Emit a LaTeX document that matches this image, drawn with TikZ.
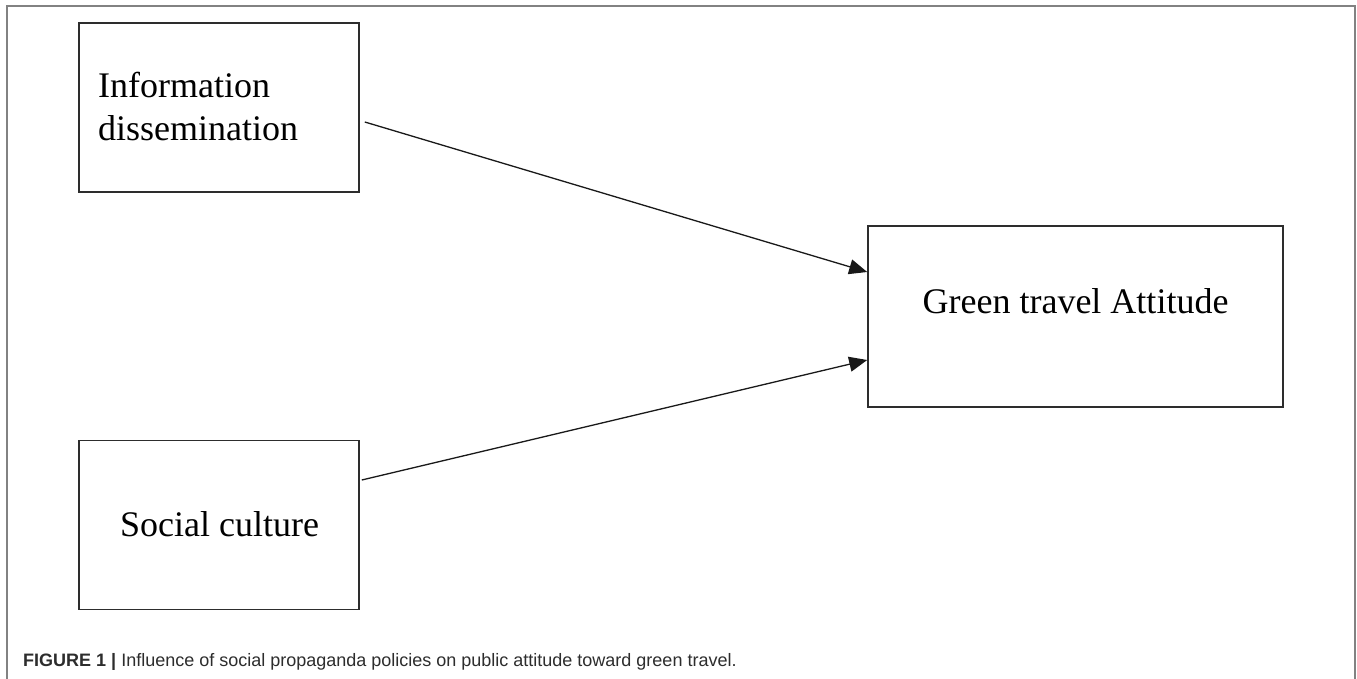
\documentclass[tikz,border=0pt]{standalone}
\usepackage{fontspec}
\setmainfont{Liberation Serif}
\newfontfamily\captionfont{Liberation Sans}
\usetikzlibrary{arrows.meta,calc}

\definecolor{framegray}{RGB}{130,130,130}
\definecolor{boxline}{RGB}{45,45,45}
\definecolor{captext}{RGB}{45,45,45}

\tikzset{
  factor/.style={draw=boxline, line width=1.6pt, minimum width=280pt, minimum height=169pt, inner sep=0pt},
  outcome/.style={draw=boxline, line width=1.6pt, minimum width=415pt, minimum height=181pt, inner sep=0pt},
  boxtext/.style={font=\fontsize{36}{43}\selectfont, inner sep=0pt, text=black},
  link/.style={draw=black!90, line width=1.3pt, -{Triangle[length=18pt,width=15pt]}},
}

\begin{document}
\begin{tikzpicture}[x=1pt,y=-1pt]
  \useasboundingbox (0,0) rectangle (1357,679);
  \fill[white] (0,0) rectangle (1357,679);

  % open frame around the figure (no bottom edge)
  \draw[framegray, line width=2pt] (7,679) -- (7,6) -- (1355,6) -- (1355,679);

  % boxes
  \node[factor] (info) at (219,107.5) {};
  \node[factor] (social) at (219,525) {};
  \node[outcome] (green) at (1075.5,316.5) {};

  % box labels (base anchor of a two-line node sits on its last line)
  \node[boxtext, anchor=base west, align=left] (infotext) at (98,141) {Information\\dissemination};
  \node[boxtext, anchor=base] (socialtext) at (219.5,536) {Social culture};
  \node[boxtext, anchor=base] (greentext) at (1075.5,313) {Green travel Attitude};

  % connector end points
  \coordinate (infoout) at ($(info.east)+(5,14.5)$);
  \coordinate (socialout) at ($(social.east)+(2,-45)$);
  \coordinate (greenin1) at ($(green.west)+(0,-44.5)$);
  \coordinate (greenin2) at ($(green.west)+(0,43.5)$);

  \draw[link] (infoout) -- (greenin1);
  \draw[link] (socialout) -- (greenin2);

  % caption
  \node[anchor=base west, inner sep=0pt, text=captext, font=\captionfont\fontsize{18}{22}\selectfont] (caption) at (23,666)
    {\textbf{FIGURE 1 |} Influence of social propaganda policies on public attitude toward green travel.};
\end{tikzpicture}
\end{document}
